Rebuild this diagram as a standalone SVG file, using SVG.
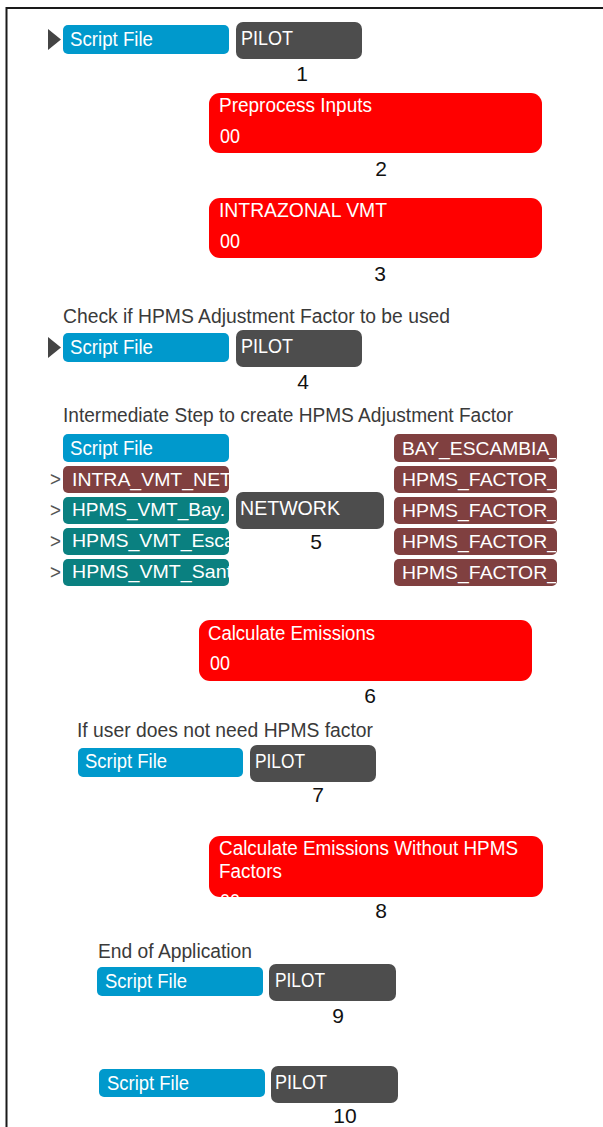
<svg xmlns="http://www.w3.org/2000/svg" width="603" height="1127" viewBox="0 0 603 1127">
<style>
text{font-family:"Liberation Sans",Arial,sans-serif}
.sf{fill:#0099cc}
.pl{fill:#4d4d4d}
.rd{fill:#ff0000}
.br{fill:#804040}
.tl{fill:#0a8080}
.wt{fill:#ffffff;font-size:20px}
.dt{fill:#ffffff;font-size:19px}
.lb{fill:#111111;font-size:21px;text-anchor:middle}
.cm{fill:#3a3a3a;font-size:20px}
.gt{fill:#555555;font-size:20px}
.mk{fill:#444444}
</style>
<defs>
<clipPath id="clipL" clipPathUnits="userSpaceOnUse"><rect x="63" y="430" width="166" height="160"/></clipPath>
<clipPath id="clipR" clipPathUnits="userSpaceOnUse"><rect x="394" y="430" width="162" height="160"/></clipPath>
<clipPath id="clip8" clipPathUnits="userSpaceOnUse"><rect x="209" y="836" width="334" height="61" rx="11"/></clipPath>
</defs>
<rect x="0" y="0" width="603" height="1127" fill="#ffffff"/>
<g id="frame" stroke="#1a1a1a" stroke-width="2" fill="none">
<line x1="6.5" y1="8" x2="603" y2="8"/>
<line x1="6.5" y1="7" x2="6.5" y2="1127"/>
</g>
<g id="connectors"/>

<g id="node1">
<polygon class="mk" points="48,29 61,39.5 48,50"/>
<rect class="sf" x="63" y="25" width="166" height="29" rx="5"/>
<text class="wt" x="70" y="46" textLength="83" lengthAdjust="spacingAndGlyphs">Script File</text>
<rect class="pl" x="236" y="22" width="126" height="37" rx="7"/>
<text class="wt" x="241" y="45" textLength="52" lengthAdjust="spacingAndGlyphs">PILOT</text>
<text class="lb" x="302" y="81">1</text>
</g>

<g id="node2">
<rect class="rd" x="209" y="93" width="333" height="60" rx="11"/>
<text class="wt" x="219" y="112" textLength="153" lengthAdjust="spacingAndGlyphs">Preprocess Inputs</text>
<text class="wt" x="220" y="143" textLength="20" lengthAdjust="spacingAndGlyphs">00</text>
<text class="lb" x="381" y="176">2</text>
</g>

<g id="node3">
<rect class="rd" x="209" y="198" width="333" height="60" rx="11"/>
<text class="wt" x="219" y="217" textLength="168" lengthAdjust="spacingAndGlyphs">INTRAZONAL VMT</text>
<text class="wt" x="220" y="248" textLength="20" lengthAdjust="spacingAndGlyphs">00</text>
<text class="lb" x="380" y="281">3</text>
</g>

<text id="comment4" class="cm" x="63" y="323" textLength="387" lengthAdjust="spacingAndGlyphs">Check if HPMS Adjustment Factor to be used</text>
<g id="node4">
<polygon class="mk" points="48,337 61,347.5 48,358"/>
<rect class="sf" x="63" y="333" width="166" height="29" rx="5"/>
<text class="wt" x="70" y="354" textLength="83" lengthAdjust="spacingAndGlyphs">Script File</text>
<rect class="pl" x="236" y="330" width="126" height="37" rx="7"/>
<text class="wt" x="241" y="353" textLength="52" lengthAdjust="spacingAndGlyphs">PILOT</text>
<text class="lb" x="303" y="389">4</text>
</g>

<text id="comment5" class="cm" x="63" y="422" textLength="450" lengthAdjust="spacingAndGlyphs">Intermediate Step to create HPMS Adjustment Factor</text>
<g id="node5">
<rect class="sf" x="63" y="434" width="166" height="28" rx="5"/>
<text class="wt" x="70" y="455" textLength="83" lengthAdjust="spacingAndGlyphs">Script File</text>
<g id="node5-inputs">
<text class="gt" x="50" y="486" textLength="11" lengthAdjust="spacingAndGlyphs">&gt;</text>
<text class="gt" x="50" y="517" textLength="11" lengthAdjust="spacingAndGlyphs">&gt;</text>
<text class="gt" x="50" y="548" textLength="11" lengthAdjust="spacingAndGlyphs">&gt;</text>
<text class="gt" x="50" y="579" textLength="11" lengthAdjust="spacingAndGlyphs">&gt;</text>
<rect class="br" x="63" y="466" width="166" height="27" rx="5"/>
<rect class="tl" x="63" y="497" width="166" height="27" rx="5"/>
<rect class="tl" x="63" y="528" width="166" height="27" rx="5"/>
<rect class="tl" x="63" y="559" width="166" height="27" rx="5"/>
<g clip-path="url(#clipL)">
<text class="dt" x="72" y="486" textLength="160" lengthAdjust="spacingAndGlyphs">INTRA_VMT_NET</text>
<text class="dt" x="72" y="516" textLength="153" lengthAdjust="spacingAndGlyphs">HPMS_VMT_Bay.</text>
<text class="dt" x="72" y="547" textLength="163" lengthAdjust="spacingAndGlyphs">HPMS_VMT_Esca</text>
<text class="dt" x="72" y="578" textLength="160" lengthAdjust="spacingAndGlyphs">HPMS_VMT_Sant</text>
</g>
</g>
<rect class="pl" x="236" y="492" width="148" height="37" rx="7"/>
<text class="wt" x="240" y="515" textLength="100" lengthAdjust="spacingAndGlyphs">NETWORK</text>
<text class="lb" x="316" y="549">5</text>
<g id="node5-outputs">
<rect class="br" x="394" y="434" width="163" height="28" rx="5"/>
<rect class="br" x="394" y="466" width="163" height="27" rx="5"/>
<rect class="br" x="394" y="497" width="163" height="27" rx="5"/>
<rect class="br" x="394" y="528" width="163" height="27" rx="5"/>
<rect class="br" x="394" y="559" width="163" height="27" rx="5"/>
<g clip-path="url(#clipR)">
<text class="dt" x="402" y="455" textLength="158" lengthAdjust="spacingAndGlyphs">BAY_ESCAMBIA_</text>
<text class="dt" x="402" y="486" textLength="156" lengthAdjust="spacingAndGlyphs">HPMS_FACTOR_</text>
<text class="dt" x="402" y="517" textLength="156" lengthAdjust="spacingAndGlyphs">HPMS_FACTOR_</text>
<text class="dt" x="402" y="548" textLength="156" lengthAdjust="spacingAndGlyphs">HPMS_FACTOR_</text>
<text class="dt" x="402" y="579" textLength="156" lengthAdjust="spacingAndGlyphs">HPMS_FACTOR_</text>
</g>
</g>
</g>

<g id="node6">
<rect class="rd" x="199" y="620" width="333" height="61" rx="11"/>
<text class="wt" x="208" y="640" textLength="167" lengthAdjust="spacingAndGlyphs">Calculate Emissions</text>
<text class="wt" x="210" y="670" textLength="20" lengthAdjust="spacingAndGlyphs">00</text>
<text class="lb" x="370" y="703">6</text>
</g>

<text id="comment7" class="cm" x="77" y="737" textLength="296" lengthAdjust="spacingAndGlyphs">If user does not need HPMS factor</text>
<g id="node7">
<rect class="sf" x="78" y="748" width="165" height="29" rx="5"/>
<text class="wt" x="85" y="768" textLength="82" lengthAdjust="spacingAndGlyphs">Script File</text>
<rect class="pl" x="250" y="745" width="126" height="37" rx="7"/>
<text class="wt" x="255" y="768" textLength="50" lengthAdjust="spacingAndGlyphs">PILOT</text>
<text class="lb" x="318" y="802">7</text>
</g>

<g id="node8">
<rect class="rd" x="209" y="836" width="334" height="61" rx="11"/>
<g clip-path="url(#clip8)">
<text class="wt" x="219" y="855" textLength="299" lengthAdjust="spacingAndGlyphs">Calculate Emissions Without HPMS</text>
<text class="wt" x="219" y="878" textLength="63" lengthAdjust="spacingAndGlyphs">Factors</text>
<text class="wt" x="220" y="908" textLength="20" lengthAdjust="spacingAndGlyphs">00</text>
</g>
<text class="lb" x="381" y="918">8</text>
</g>

<text id="comment9" class="cm" x="98" y="958" textLength="154" lengthAdjust="spacingAndGlyphs">End of Application</text>
<g id="node9">
<rect class="sf" x="97" y="967" width="166" height="29" rx="5"/>
<text class="wt" x="105" y="988" textLength="82" lengthAdjust="spacingAndGlyphs">Script File</text>
<rect class="pl" x="269" y="964" width="127" height="37" rx="7"/>
<text class="wt" x="275" y="987" textLength="50" lengthAdjust="spacingAndGlyphs">PILOT</text>
<text class="lb" x="338" y="1023">9</text>
</g>

<g id="node10">
<rect class="sf" x="99" y="1069" width="166" height="28" rx="5"/>
<text class="wt" x="107" y="1090" textLength="82" lengthAdjust="spacingAndGlyphs">Script File</text>
<rect class="pl" x="271" y="1066" width="127" height="37" rx="7"/>
<text class="wt" x="275" y="1089" textLength="52" lengthAdjust="spacingAndGlyphs">PILOT</text>
<text class="lb" x="345" y="1123">10</text>
</g>
</svg>
